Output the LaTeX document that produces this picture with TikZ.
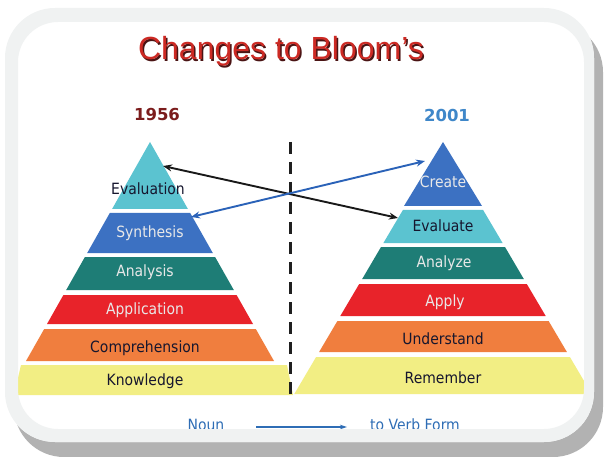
\documentclass[tikz,border=0pt]{standalone}
\usepackage{fontspec}
\setmainfont{Liberation Sans}
\newfontfamily\labelfont{DejaVu Sans}[FakeStretch=0.9]
\newfontfamily\yearfont{DejaVu Sans}
\usetikzlibrary{arrows.meta, positioning}

\definecolor{framegray}{HTML}{F0F2F2}
\definecolor{shadowgray}{HTML}{B2B2B2}
\definecolor{bandcyan}{HTML}{5BC3D0}
\definecolor{bandblue}{HTML}{3C71C2}
\definecolor{bandteal}{HTML}{1E7D76}
\definecolor{bandred}{HTML}{E8232A}
\definecolor{bandorange}{HTML}{F07E3E}
\definecolor{bandyellow}{HTML}{F2EE84}
\definecolor{labeldark}{HTML}{16162E}
\definecolor{labellight}{HTML}{E8E8E8}
\definecolor{titlered}{HTML}{CC2A24}
\definecolor{titleshade}{HTML}{4A1414}
\definecolor{oldred}{HTML}{7B1C1C}
\definecolor{newblue}{HTML}{3F87C9}
\definecolor{linkblue}{HTML}{2A62B8}
\definecolor{nounblue}{HTML}{2E6DB5}

\begin{document}
\begin{tikzpicture}[
    x=1pt, y=-1pt,
    bandtext/.style={font=\labelfont\fontsize{15.5}{18}\selectfont, inner sep=0},
    darktext/.style={bandtext, text=labeldark},
    lighttext/.style={bandtext, text=labellight},
    yeartext/.style={font=\yearfont\bfseries\fontsize{16.5}{19}\selectfont, inner sep=0},
    crossarrow/.style={{Stealth[length=9pt,width=7pt]}-{Stealth[length=9pt,width=7pt]}, line width=1.9pt},
    nounarrow/.style={-{Stealth[length=7pt,width=4.5pt]}, line width=1.6pt, nounblue},
]
\useasboundingbox (0,0) rectangle (605,457);

% Frame shadow and page
\fill[shadowgray, rounded corners=50pt] (14,22) rectangle (603,457);
\fill[white, rounded corners=50pt] (5,8) rectangle (594,442);

% Title
\node[font=\fontsize{32}{38}\selectfont, text=titleshade, anchor=base, inner sep=0] at (282.5,61.5) {Changes to Bloom’s};
\node[font=\fontsize{32}{38}\selectfont, text=titlered, anchor=base, inner sep=0] (title) at (281,60) {Changes to Bloom’s};

\node[yeartext, text=oldred] (old) at (157,115) {1956};
\node[yeartext, text=newblue] (new) at (447,115) {2001};

% Left pyramid (1956)
\fill[bandcyan] (150,142) -- (187.9,209) -- (112.1,209) -- cycle;
\fill[bandblue] (109.8,213) -- (190.2,213) -- (212.8,253) -- (87.2,253) -- cycle;
\fill[bandteal] (84.9,257) -- (215.1,257) -- (233.8,290) -- (66.2,290) -- cycle;
\fill[bandred] (63.4,295) -- (236.6,295) -- (253,324) -- (47,324) -- cycle;
\fill[bandorange] (44.2,329) -- (255.8,329) -- (274,361) -- (26,361) -- cycle;
\fill[bandyellow] (21,365) -- (287,365) -- (293,395) -- (14,395) -- cycle;

\node[darktext] (evaluation) at (148,189) {Evaluation};
\node[lighttext] (synthesis) at (150,233) {Synthesis};
\node[lighttext] (analysis) at (145,272) {Analysis};
\node[lighttext] (application) at (145,310) {Application};
\node[darktext] (comprehension) at (145,348) {Comprehension};
\node[darktext] (knowledge) at (145,381) {Knowledge};

% Right pyramid (2001)
\fill[bandblue] (443,142) -- (482,206) -- (404,206) -- cycle;
\fill[bandcyan] (402.9,210) -- (483.1,210) -- (502.6,243) -- (383.4,243) -- cycle;
\fill[bandteal] (381,247) -- (505,247) -- (523.8,279) -- (362.2,279) -- cycle;
\fill[bandred] (359.2,284) -- (526.8,284) -- (545.7,316) -- (340.3,316) -- cycle;
\fill[bandorange] (337.4,321) -- (548.6,321) -- (566.9,352) -- (319.1,352) -- cycle;
\fill[bandyellow] (316.1,357) -- (569.9,357) -- (591.7,394) -- (294.3,394) -- cycle;

\node[lighttext] (create) at (443,182) {Create};
\node[darktext] (evaluate) at (443,226) {Evaluate};
\node[lighttext] (analyze) at (444,263) {Analyze};
\node[lighttext] (apply) at (445,302) {Apply};
\node[darktext] (understand) at (443,339) {Understand};
\node[darktext] (remember) at (443,378) {Remember};

% Divider
\coordinate (divtop) at (290,142);
\coordinate (divbottom) at (290,401);
\draw[line width=3pt, color=black!88, dash pattern=on 12pt off 8pt] (divtop) -- (divbottom);

% Crossing arrows
\coordinate (evaluationtip) at (163,166);
\coordinate (evaluatetip) at (398,218);
\coordinate (synthesistip) at (191,217);
\coordinate (createtip) at (425,161);
\draw[crossarrow, black!90] (evaluationtip) -- (evaluatetip);
\draw[crossarrow, linkblue] (synthesistip) -- (createtip);

% Noun to verb
\node[font=\labelfont\fontsize{15.5}{18}\selectfont, text=nounblue, anchor=base, inner sep=0] (noun) at (206,430) {Noun};
\node[font=\labelfont\fontsize{15.5}{18}\selectfont, text=nounblue, anchor=base, inner sep=0] (verb) at (415,430) {to Verb Form};
\coordinate (nounend) at (256,427);
\coordinate (verbend) at (347,427);
\draw[nounarrow] (nounend) -- (verbend);

% Frame ring on top
\fill[framegray, even odd rule] [rounded corners=50pt] (5,8) rectangle (594,442)
    [rounded corners=40pt] (18,22) rectangle (584,429);
\end{tikzpicture}
\end{document}
